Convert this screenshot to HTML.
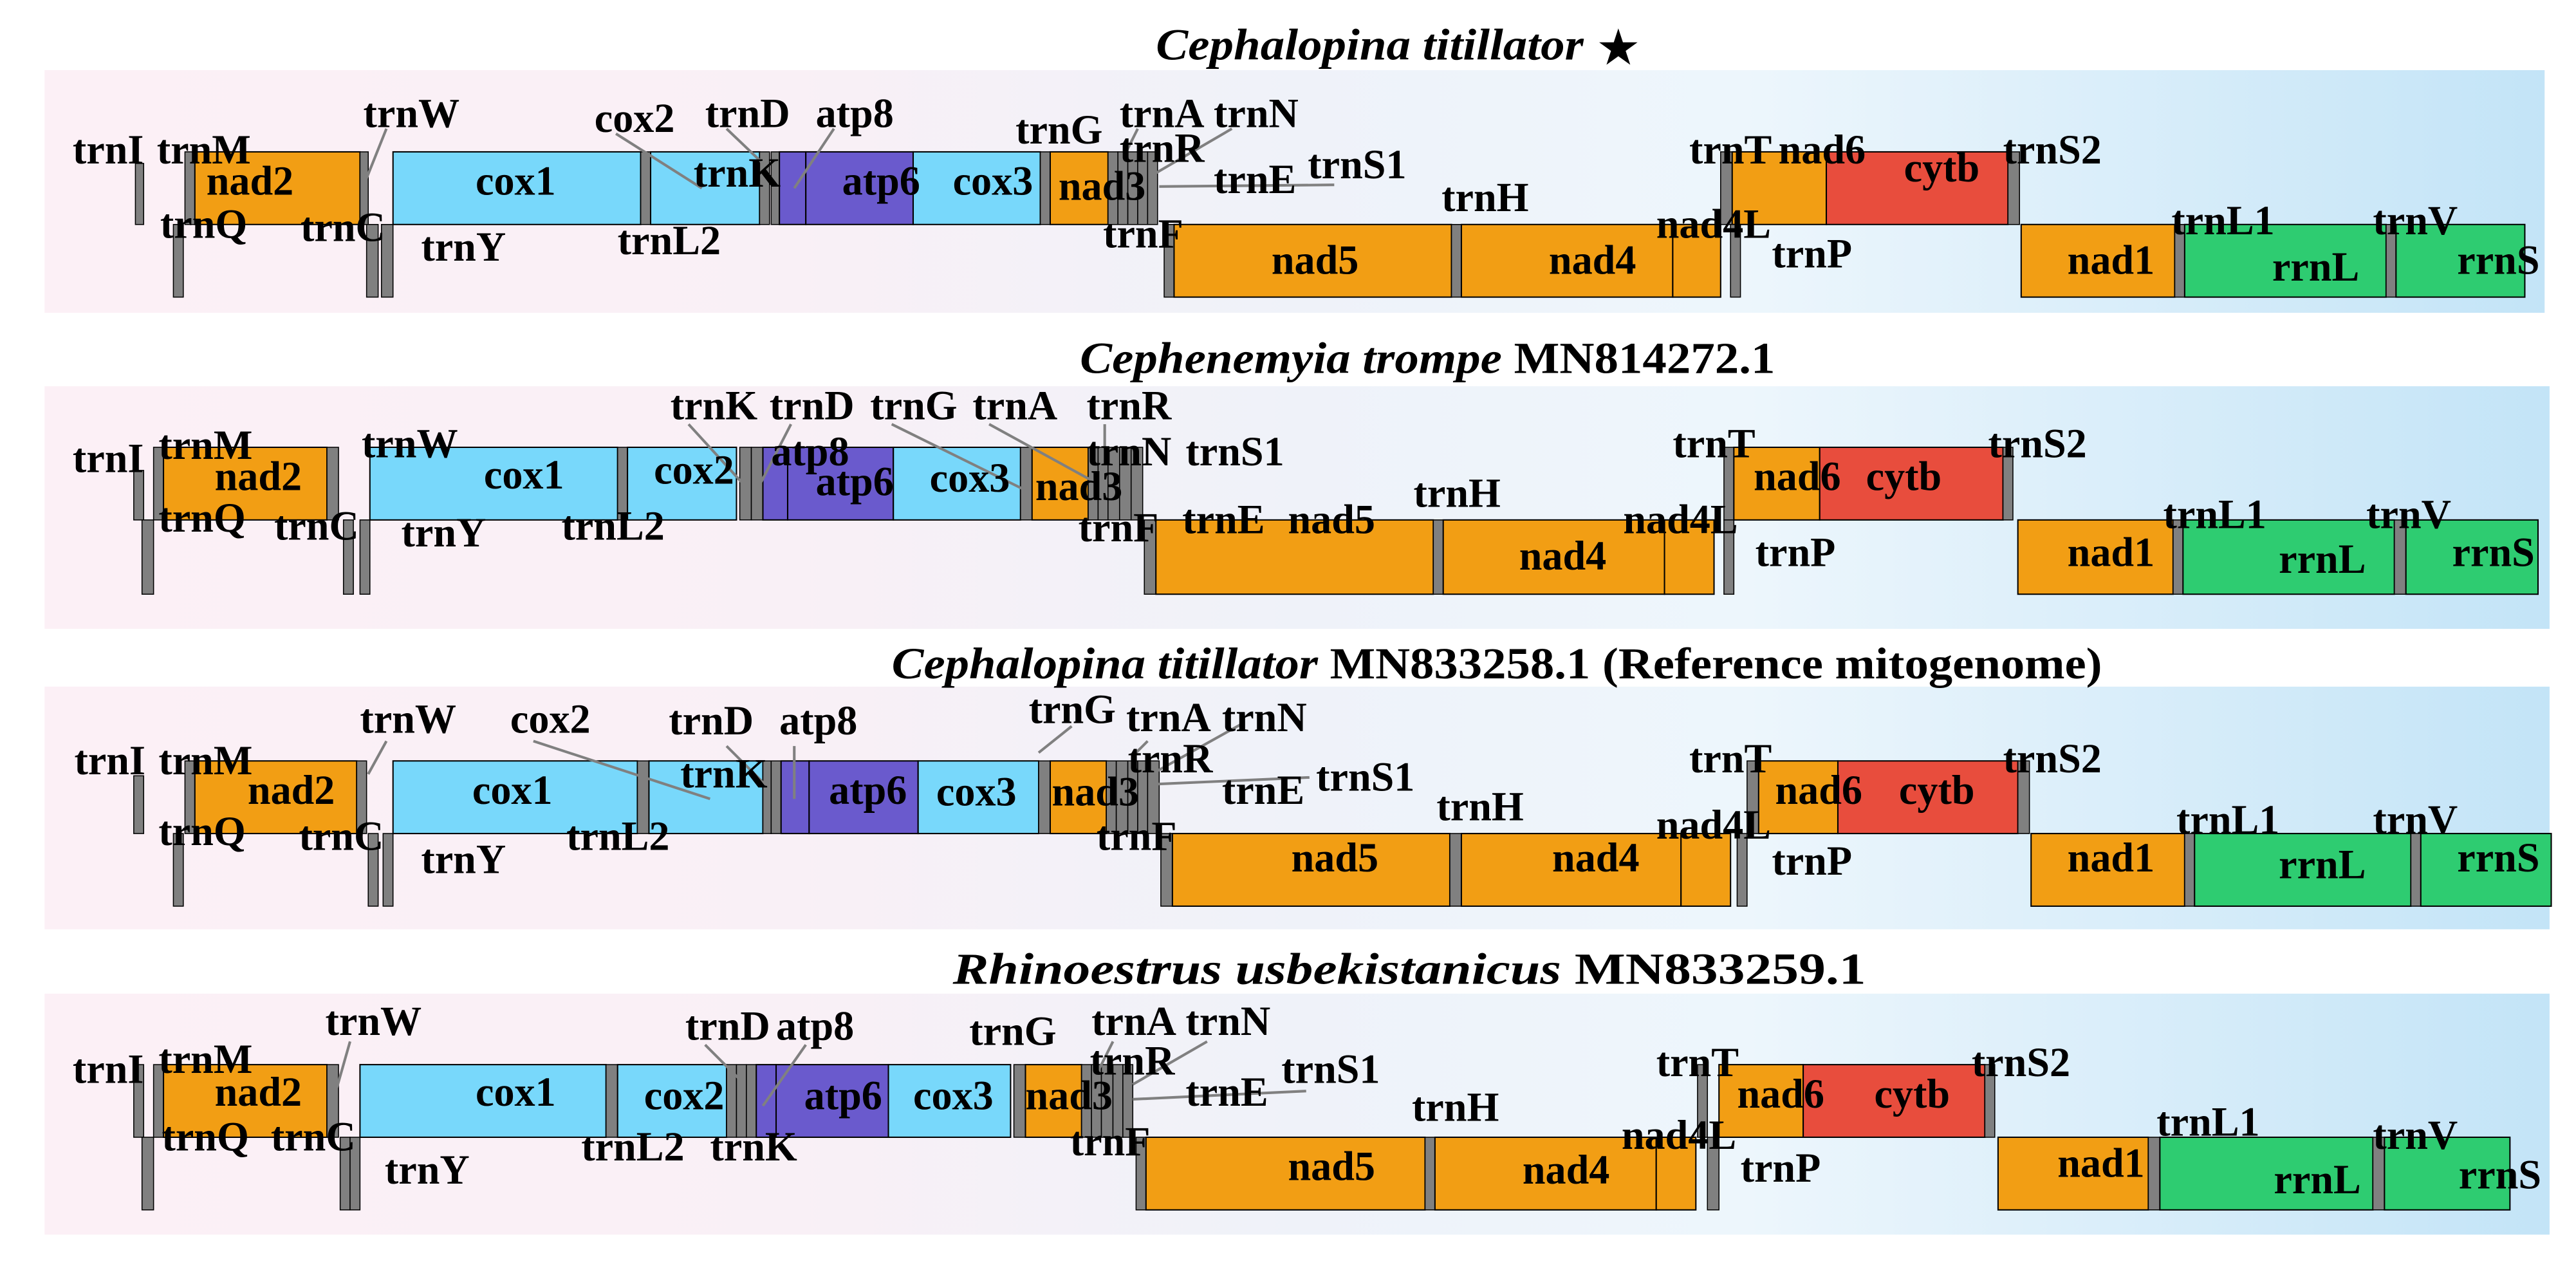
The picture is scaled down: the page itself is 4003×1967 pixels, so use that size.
<!DOCTYPE html>
<html><head><meta charset="utf-8">
<style>
html,body{margin:0;padding:0;background:#fff;}
svg{display:block;}
.o{fill:#f29e14;stroke:#000;stroke-width:0.8}
.c{fill:#78d8fb;stroke:#000;stroke-width:0.8}
.p{fill:#6a5acd;stroke:#000;stroke-width:0.8}
.r{fill:#e84d3d;stroke:#000;stroke-width:0.8}
.g{fill:#2ecc71;stroke:#000;stroke-width:0.8}
.t{fill:#808080;stroke:#000;stroke-width:0.6}
.ln{stroke:#808080;stroke-width:1.6;fill:none}
text{font-family:"Liberation Serif",serif;font-weight:bold;font-size:25px;fill:#000}
.ti{font-size:27px}
</style></head><body>
<svg width="4003" height="1967" viewBox="0 0 1560 767" preserveAspectRatio="none" xmlns="http://www.w3.org/2000/svg">
<defs>
<linearGradient id="bg" x1="0" y1="0" x2="1" y2="0">
<stop offset="0" stop-color="#fcf0f6"/>
<stop offset="0.3" stop-color="#f9f0f6"/>
<stop offset="0.5" stop-color="#eff2f9"/>
<stop offset="0.68" stop-color="#edf6fc"/>
<stop offset="1" stop-color="#c3e4f7"/>
</linearGradient>
</defs>
<rect x="0" y="0" width="1560" height="767" fill="#fff"/>
<rect x="27" y="42.5" width="1514" height="147" fill="url(#bg)"/>
<rect x="27" y="234" width="1517" height="147" fill="url(#bg)"/>
<rect x="27" y="416" width="1517" height="147" fill="url(#bg)"/>
<rect x="27" y="602" width="1517" height="146" fill="url(#bg)"/>

<!-- Titles -->
<text class="ti" x="700" y="36" font-style="italic" textLength="259" lengthAdjust="spacingAndGlyphs">Cephalopina titillator</text>
<text class="ti" x="968" y="38" font-size="30">★</text>
<text class="ti" x="654" y="226" textLength="421" lengthAdjust="spacingAndGlyphs"><tspan font-style="italic">Cephenemyia trompe</tspan>  MN814272.1</text>
<text class="ti" x="540" y="411" textLength="733" lengthAdjust="spacingAndGlyphs"><tspan font-style="italic">Cephalopina titillator</tspan> MN833258.1 (Reference mitogenome)</text>
<text class="ti" x="577" y="596" textLength="553" lengthAdjust="spacingAndGlyphs"><tspan font-style="italic">Rhinoestrus usbekistanicus</tspan> MN833259.1</text>

<!-- ============ BAND 1 ============ -->
<g>
<rect class="t" x="82" y="99" width="5" height="37"/>
<rect class="t" x="112" y="92" width="6" height="44"/>
<rect class="o" x="118" y="92" width="100" height="44"/>
<rect class="t" x="218" y="92" width="5" height="44"/>
<rect class="c" x="238" y="92" width="150" height="44"/>
<rect class="t" x="388" y="92" width="6" height="44"/>
<rect class="c" x="394" y="92" width="66" height="44"/>
<rect class="t" x="460" y="92" width="6" height="44"/>
<rect class="t" x="467" y="92" width="5" height="44"/>
<rect class="p" x="472" y="92" width="16" height="44"/>
<rect class="p" x="488" y="92" width="65" height="44"/>
<rect class="c" x="553" y="92" width="77" height="44"/>
<rect class="t" x="630" y="92" width="6" height="44"/>
<rect class="o" x="636" y="92" width="35" height="44"/>
<rect class="t" x="671" y="92" width="6" height="44"/>
<rect class="t" x="677" y="92" width="6" height="44"/>
<rect class="t" x="683" y="92" width="6" height="44"/>
<rect class="t" x="689" y="92" width="6" height="44"/>
<rect class="t" x="695" y="92" width="6" height="44"/>
<rect class="t" x="1042" y="92" width="7" height="44"/>
<rect class="o" x="1049" y="92" width="57" height="44"/>
<rect class="r" x="1106" y="92" width="110" height="44"/>
<rect class="t" x="1216" y="92" width="7" height="44"/>
<rect class="t" x="105" y="136" width="6" height="44"/>
<rect class="t" x="222" y="136" width="7" height="44"/>
<rect class="t" x="231" y="136" width="7" height="44"/>
<rect class="t" x="705" y="136" width="6" height="44"/>
<rect class="o" x="711" y="136" width="168" height="44"/>
<rect class="t" x="879" y="136" width="6" height="44"/>
<rect class="o" x="885" y="136" width="128" height="44"/>
<rect class="o" x="1013" y="136" width="29" height="44"/>
<rect class="t" x="1048" y="136" width="6" height="44"/>
<rect class="o" x="1224" y="136" width="93" height="44"/>
<rect class="t" x="1317" y="136" width="6" height="44"/>
<rect class="g" x="1323" y="136" width="122" height="44"/>
<rect class="t" x="1445" y="136" width="6" height="44"/>
<rect class="g" x="1451" y="136" width="78" height="44"/>
<line class="ln" x1="234" y1="78" x2="222" y2="108"/>
<line class="ln" x1="373" y1="81" x2="425" y2="114"/>
<line class="ln" x1="440" y1="78" x2="462" y2="99"/>
<line class="ln" x1="505" y1="78" x2="481" y2="114"/>
<line class="ln" x1="689" y1="78" x2="681" y2="94"/>
<line class="ln" x1="746" y1="78" x2="698" y2="106"/>
<line class="ln" x1="702" y1="113" x2="808" y2="112"/>
<text x="44" y="99">trnI</text><text x="95" y="99">trnM</text>
<text x="125" y="118">nad2</text><text x="220" y="77">trnW</text>
<text x="97" y="144">trnQ</text><text x="182" y="146">trnC</text>
<text x="255" y="158">trnY</text><text x="288" y="118">cox1</text>
<text x="374" y="154">trnL2</text><text x="360" y="80">cox2</text>
<text x="427" y="77">trnD</text><text x="494" y="77">atp8</text>
<text x="420" y="113">trnK</text><text x="510" y="118">atp6</text>
<text x="577" y="118">cox3</text><text x="615" y="87">trnG</text>
<text x="641" y="121">nad3</text><text x="678" y="77">trnA</text>
<text x="735" y="77">trnN</text><text x="678" y="98">trnR</text>
<text x="735" y="117">trnE</text><text x="792" y="108">trnS1</text>
<text x="668" y="150">trnF</text><text x="873" y="128">trnH</text>
<text x="770" y="166">nad5</text><text x="938" y="166">nad4</text>
<text x="1003" y="144">nad4L</text><text x="1023" y="99">trnT</text>
<text x="1077" y="99">nad6</text><text x="1153" y="110">cytb</text>
<text x="1213" y="99">trnS2</text><text x="1073" y="162">trnP</text>
<text x="1252" y="166">nad1</text><text x="1315" y="142">trnL1</text>
<text x="1376" y="170">rrnL</text><text x="1437" y="142">trnV</text>
<text x="1488" y="166">rrnS</text>
</g>

<!-- ============ BAND 2 ============ -->
<g>
<rect class="t" x="81" y="285" width="6" height="30"/>
<rect class="t" x="93" y="271" width="6" height="44"/>
<rect class="o" x="99" y="271" width="99" height="44"/>
<rect class="t" x="198" y="271" width="7" height="44"/>
<rect class="c" x="224" y="271" width="150" height="44"/>
<rect class="t" x="374" y="271" width="6" height="44"/>
<rect class="c" x="380" y="271" width="66" height="44"/>
<rect class="t" x="448" y="271" width="7" height="44"/>
<rect class="t" x="455" y="271" width="7" height="44"/>
<rect class="p" x="462" y="271" width="15" height="44"/>
<rect class="p" x="477" y="271" width="64" height="44"/>
<rect class="c" x="541" y="271" width="77" height="44"/>
<rect class="t" x="618" y="271" width="7" height="44"/>
<rect class="o" x="625" y="271" width="34" height="44"/>
<rect class="t" x="659" y="271" width="6" height="44"/>
<rect class="t" x="665" y="271" width="6" height="44"/>
<rect class="t" x="671" y="271" width="7" height="44"/>
<rect class="t" x="678" y="271" width="7" height="44"/>
<rect class="t" x="685" y="271" width="7" height="44"/>
<rect class="t" x="1044" y="271" width="6" height="44"/>
<rect class="o" x="1050" y="271" width="52" height="44"/>
<rect class="r" x="1102" y="271" width="111" height="44"/>
<rect class="t" x="1213" y="271" width="6" height="44"/>
<rect class="t" x="86" y="315" width="7" height="45"/>
<rect class="t" x="208" y="315" width="6" height="45"/>
<rect class="t" x="218" y="315" width="6" height="45"/>
<rect class="t" x="693" y="315" width="7" height="45"/>
<rect class="o" x="700" y="315" width="168" height="45"/>
<rect class="t" x="868" y="315" width="6" height="45"/>
<rect class="o" x="874" y="315" width="134" height="45"/>
<rect class="o" x="1008" y="315" width="30" height="45"/>
<rect class="t" x="1044" y="315" width="6" height="45"/>
<rect class="o" x="1222" y="315" width="94" height="45"/>
<rect class="t" x="1316" y="315" width="6" height="45"/>
<rect class="g" x="1322" y="315" width="128" height="45"/>
<rect class="t" x="1450" y="315" width="7" height="45"/>
<rect class="g" x="1457" y="315" width="80" height="45"/>
<line class="ln" x1="417" y1="257" x2="449" y2="292"/>
<line class="ln" x1="479" y1="257" x2="461" y2="292"/>
<line class="ln" x1="540" y1="257" x2="621" y2="297"/>
<line class="ln" x1="599" y1="257" x2="661" y2="291"/>
<line class="ln" x1="669" y1="257" x2="669" y2="271"/>
<text x="44" y="286">trnI</text><text x="96" y="278">trnM</text>
<text x="130" y="297">nad2</text><text x="96" y="322">trnQ</text>
<text x="166" y="327">trnC</text><text x="219" y="277">trnW</text>
<text x="293" y="296">cox1</text><text x="243" y="331">trnY</text>
<text x="340" y="327">trnL2</text>
<text x="406" y="254">trnK</text><text x="466" y="254">trnD</text>
<text x="527" y="254">trnG</text><text x="589" y="254">trnA</text>
<text x="658" y="254">trnR</text><text x="658" y="282">trnN</text>
<text x="718" y="282">trnS1</text>
<text x="467" y="282">atp8</text><text x="396" y="293">cox2</text>
<text x="494" y="300">atp6</text><text x="563" y="298">cox3</text>
<text x="627" y="303">nad3</text>
<text x="653" y="328">trnF</text><text x="716" y="323">trnE</text>
<text x="780" y="323">nad5</text><text x="856" y="307">trnH</text>
<text x="920" y="345">nad4</text><text x="983" y="323">nad4L</text>
<text x="1013" y="277">trnT</text><text x="1062" y="297">nad6</text>
<text x="1130" y="297">cytb</text><text x="1204" y="277">trnS2</text>
<text x="1063" y="343">trnP</text><text x="1252" y="343">nad1</text>
<text x="1310" y="320">trnL1</text><text x="1380" y="347">rrnL</text>
<text x="1433" y="320">trnV</text><text x="1485" y="343">rrnS</text>
</g>

<!-- ============ BAND 3 ============ -->
<g>
<rect class="t" x="81" y="470" width="6" height="35"/>
<rect class="t" x="112" y="461" width="6" height="44"/>
<rect class="o" x="118" y="461" width="98" height="44"/>
<rect class="t" x="216" y="461" width="6" height="44"/>
<rect class="c" x="238" y="461" width="148" height="44"/>
<rect class="t" x="386" y="461" width="7" height="44"/>
<rect class="c" x="393" y="461" width="69" height="44"/>
<rect class="t" x="462" y="461" width="5" height="44"/>
<rect class="t" x="467" y="461" width="6" height="44"/>
<rect class="p" x="473" y="461" width="17" height="44"/>
<rect class="p" x="490" y="461" width="66" height="44"/>
<rect class="c" x="556" y="461" width="73" height="44"/>
<rect class="t" x="629" y="461" width="7" height="44"/>
<rect class="o" x="636" y="461" width="34" height="44"/>
<rect class="t" x="670" y="461" width="6" height="44"/>
<rect class="t" x="676" y="461" width="7" height="44"/>
<rect class="t" x="683" y="461" width="6" height="44"/>
<rect class="t" x="689" y="461" width="6" height="44"/>
<rect class="t" x="695" y="461" width="7" height="44"/>
<rect class="t" x="1058" y="461" width="7" height="44"/>
<rect class="o" x="1065" y="461" width="48" height="44"/>
<rect class="r" x="1113" y="461" width="109" height="44"/>
<rect class="t" x="1222" y="461" width="7" height="44"/>
<rect class="t" x="105" y="505" width="6" height="44"/>
<rect class="t" x="223" y="505" width="6" height="44"/>
<rect class="t" x="232" y="505" width="6" height="44"/>
<rect class="t" x="703" y="505" width="7" height="44"/>
<rect class="o" x="710" y="505" width="168" height="44"/>
<rect class="t" x="878" y="505" width="7" height="44"/>
<rect class="o" x="885" y="505" width="133" height="44"/>
<rect class="o" x="1018" y="505" width="30" height="44"/>
<rect class="t" x="1052" y="505" width="6" height="44"/>
<rect class="o" x="1230" y="505" width="93" height="44"/>
<rect class="t" x="1323" y="505" width="6" height="44"/>
<rect class="g" x="1329" y="505" width="131" height="44"/>
<rect class="t" x="1460" y="505" width="6" height="44"/>
<rect class="g" x="1466" y="505" width="79" height="44"/>
<line class="ln" x1="234" y1="449" x2="223" y2="469"/>
<line class="ln" x1="323" y1="449" x2="430" y2="484"/>
<line class="ln" x1="440" y1="452" x2="463" y2="475"/>
<line class="ln" x1="481" y1="452" x2="481" y2="484"/>
<line class="ln" x1="649" y1="440" x2="629" y2="456"/>
<line class="ln" x1="695" y1="449" x2="688" y2="456"/>
<line class="ln" x1="753" y1="438" x2="701" y2="467"/>
<line class="ln" x1="701" y1="475" x2="793" y2="471"/>
<text x="45" y="469">trnI</text><text x="96" y="469">trnM</text>
<text x="150" y="487">nad2</text><text x="96" y="512">trnQ</text>
<text x="181" y="515">trnC</text><text x="218" y="444">trnW</text>
<text x="309" y="444">cox2</text><text x="286" y="487">cox1</text>
<text x="255" y="529">trnY</text><text x="343" y="515">trnL2</text>
<text x="405" y="445">trnD</text><text x="472" y="445">atp8</text>
<text x="412" y="477">trnK</text><text x="502" y="487">atp6</text>
<text x="567" y="488">cox3</text><text x="623" y="438">trnG</text>
<text x="637" y="488">nad3</text><text x="682" y="443">trnA</text>
<text x="740" y="443">trnN</text><text x="683" y="468">trnR</text>
<text x="740" y="487">trnE</text><text x="797" y="479">trnS1</text>
<text x="664" y="515">trnF</text><text x="870" y="497">trnH</text>
<text x="782" y="528">nad5</text><text x="940" y="528">nad4</text>
<text x="1003" y="508">nad4L</text><text x="1023" y="468">trnT</text>
<text x="1075" y="487">nad6</text><text x="1150" y="487">cytb</text>
<text x="1213" y="468">trnS2</text><text x="1073" y="530">trnP</text>
<text x="1252" y="528">nad1</text><text x="1318" y="505">trnL1</text>
<text x="1380" y="532">rrnL</text><text x="1437" y="505">trnV</text>
<text x="1488" y="528">rrnS</text>
</g>

<!-- ============ BAND 4 ============ -->
<g>
<rect class="t" x="81" y="645" width="6" height="44"/>
<rect class="t" x="93" y="645" width="6" height="44"/>
<rect class="o" x="99" y="645" width="99" height="44"/>
<rect class="t" x="198" y="645" width="7" height="44"/>
<rect class="c" x="218" y="645" width="149" height="44"/>
<rect class="t" x="367" y="645" width="7" height="44"/>
<rect class="c" x="374" y="645" width="66" height="44"/>
<rect class="t" x="440" y="645" width="6" height="44"/>
<rect class="t" x="446" y="645" width="6" height="44"/>
<rect class="t" x="452" y="645" width="6" height="44"/>
<rect class="p" x="458" y="645" width="12" height="44"/>
<rect class="p" x="470" y="645" width="68" height="44"/>
<rect class="c" x="538" y="645" width="74" height="44"/>
<rect class="t" x="614" y="645" width="7" height="44"/>
<rect class="o" x="621" y="645" width="34" height="44"/>
<rect class="t" x="655" y="645" width="6" height="44"/>
<rect class="t" x="661" y="645" width="6" height="44"/>
<rect class="t" x="667" y="645" width="7" height="44"/>
<rect class="t" x="674" y="645" width="6" height="44"/>
<rect class="t" x="680" y="645" width="6" height="44"/>
<rect class="t" x="1028" y="645" width="6" height="44"/>
<rect class="o" x="1041" y="645" width="51" height="44"/>
<rect class="r" x="1092" y="645" width="110" height="44"/>
<rect class="t" x="1202" y="645" width="6" height="44"/>
<rect class="t" x="86" y="689" width="7" height="44"/>
<rect class="t" x="206" y="689" width="6" height="44"/>
<rect class="t" x="212" y="689" width="6" height="44"/>
<rect class="t" x="688" y="689" width="6" height="44"/>
<rect class="o" x="694" y="689" width="169" height="44"/>
<rect class="t" x="863" y="689" width="6" height="44"/>
<rect class="o" x="869" y="689" width="134" height="44"/>
<rect class="o" x="1003" y="689" width="24" height="44"/>
<rect class="t" x="1034" y="689" width="7" height="44"/>
<rect class="o" x="1210" y="689" width="91" height="44"/>
<rect class="t" x="1301" y="689" width="7" height="44"/>
<rect class="g" x="1308" y="689" width="129" height="44"/>
<rect class="t" x="1437" y="689" width="7" height="44"/>
<rect class="g" x="1444" y="689" width="76" height="44"/>
<line class="ln" x1="212" y1="631" x2="204" y2="659"/>
<line class="ln" x1="427" y1="633" x2="449" y2="655"/>
<line class="ln" x1="488" y1="633" x2="462" y2="670"/>
<line class="ln" x1="674" y1="631" x2="666" y2="647"/>
<line class="ln" x1="731" y1="631" x2="686" y2="657"/>
<line class="ln" x1="686" y1="666" x2="791" y2="661"/>
<text x="44" y="656">trnI</text><text x="96" y="650">trnM</text>
<text x="130" y="670">nad2</text><text x="98" y="697">trnQ</text>
<text x="164" y="697">trnC</text><text x="197" y="627">trnW</text>
<text x="288" y="670">cox1</text><text x="233" y="717">trnY</text>
<text x="352" y="703">trnL2</text><text x="390" y="672">cox2</text>
<text x="415" y="630">trnD</text><text x="470" y="630">atp8</text>
<text x="430" y="703">trnK</text><text x="487" y="672">atp6</text>
<text x="553" y="672">cox3</text><text x="587" y="633">trnG</text>
<text x="621" y="672">nad3</text><text x="661" y="627">trnA</text>
<text x="718" y="627">trnN</text><text x="660" y="651">trnR</text>
<text x="718" y="670">trnE</text><text x="776" y="656">trnS1</text>
<text x="648" y="700">trnF</text><text x="855" y="679">trnH</text>
<text x="780" y="715">nad5</text><text x="922" y="717">nad4</text>
<text x="982" y="696">nad4L</text><text x="1003" y="652">trnT</text>
<text x="1052" y="671">nad6</text><text x="1135" y="671">cytb</text>
<text x="1194" y="652">trnS2</text><text x="1054" y="716">trnP</text>
<text x="1246" y="713">nad1</text><text x="1306" y="688">trnL1</text>
<text x="1377" y="723">rrnL</text><text x="1437" y="696">trnV</text>
<text x="1489" y="720">rrnS</text>
</g>
</svg>
</body></html>
